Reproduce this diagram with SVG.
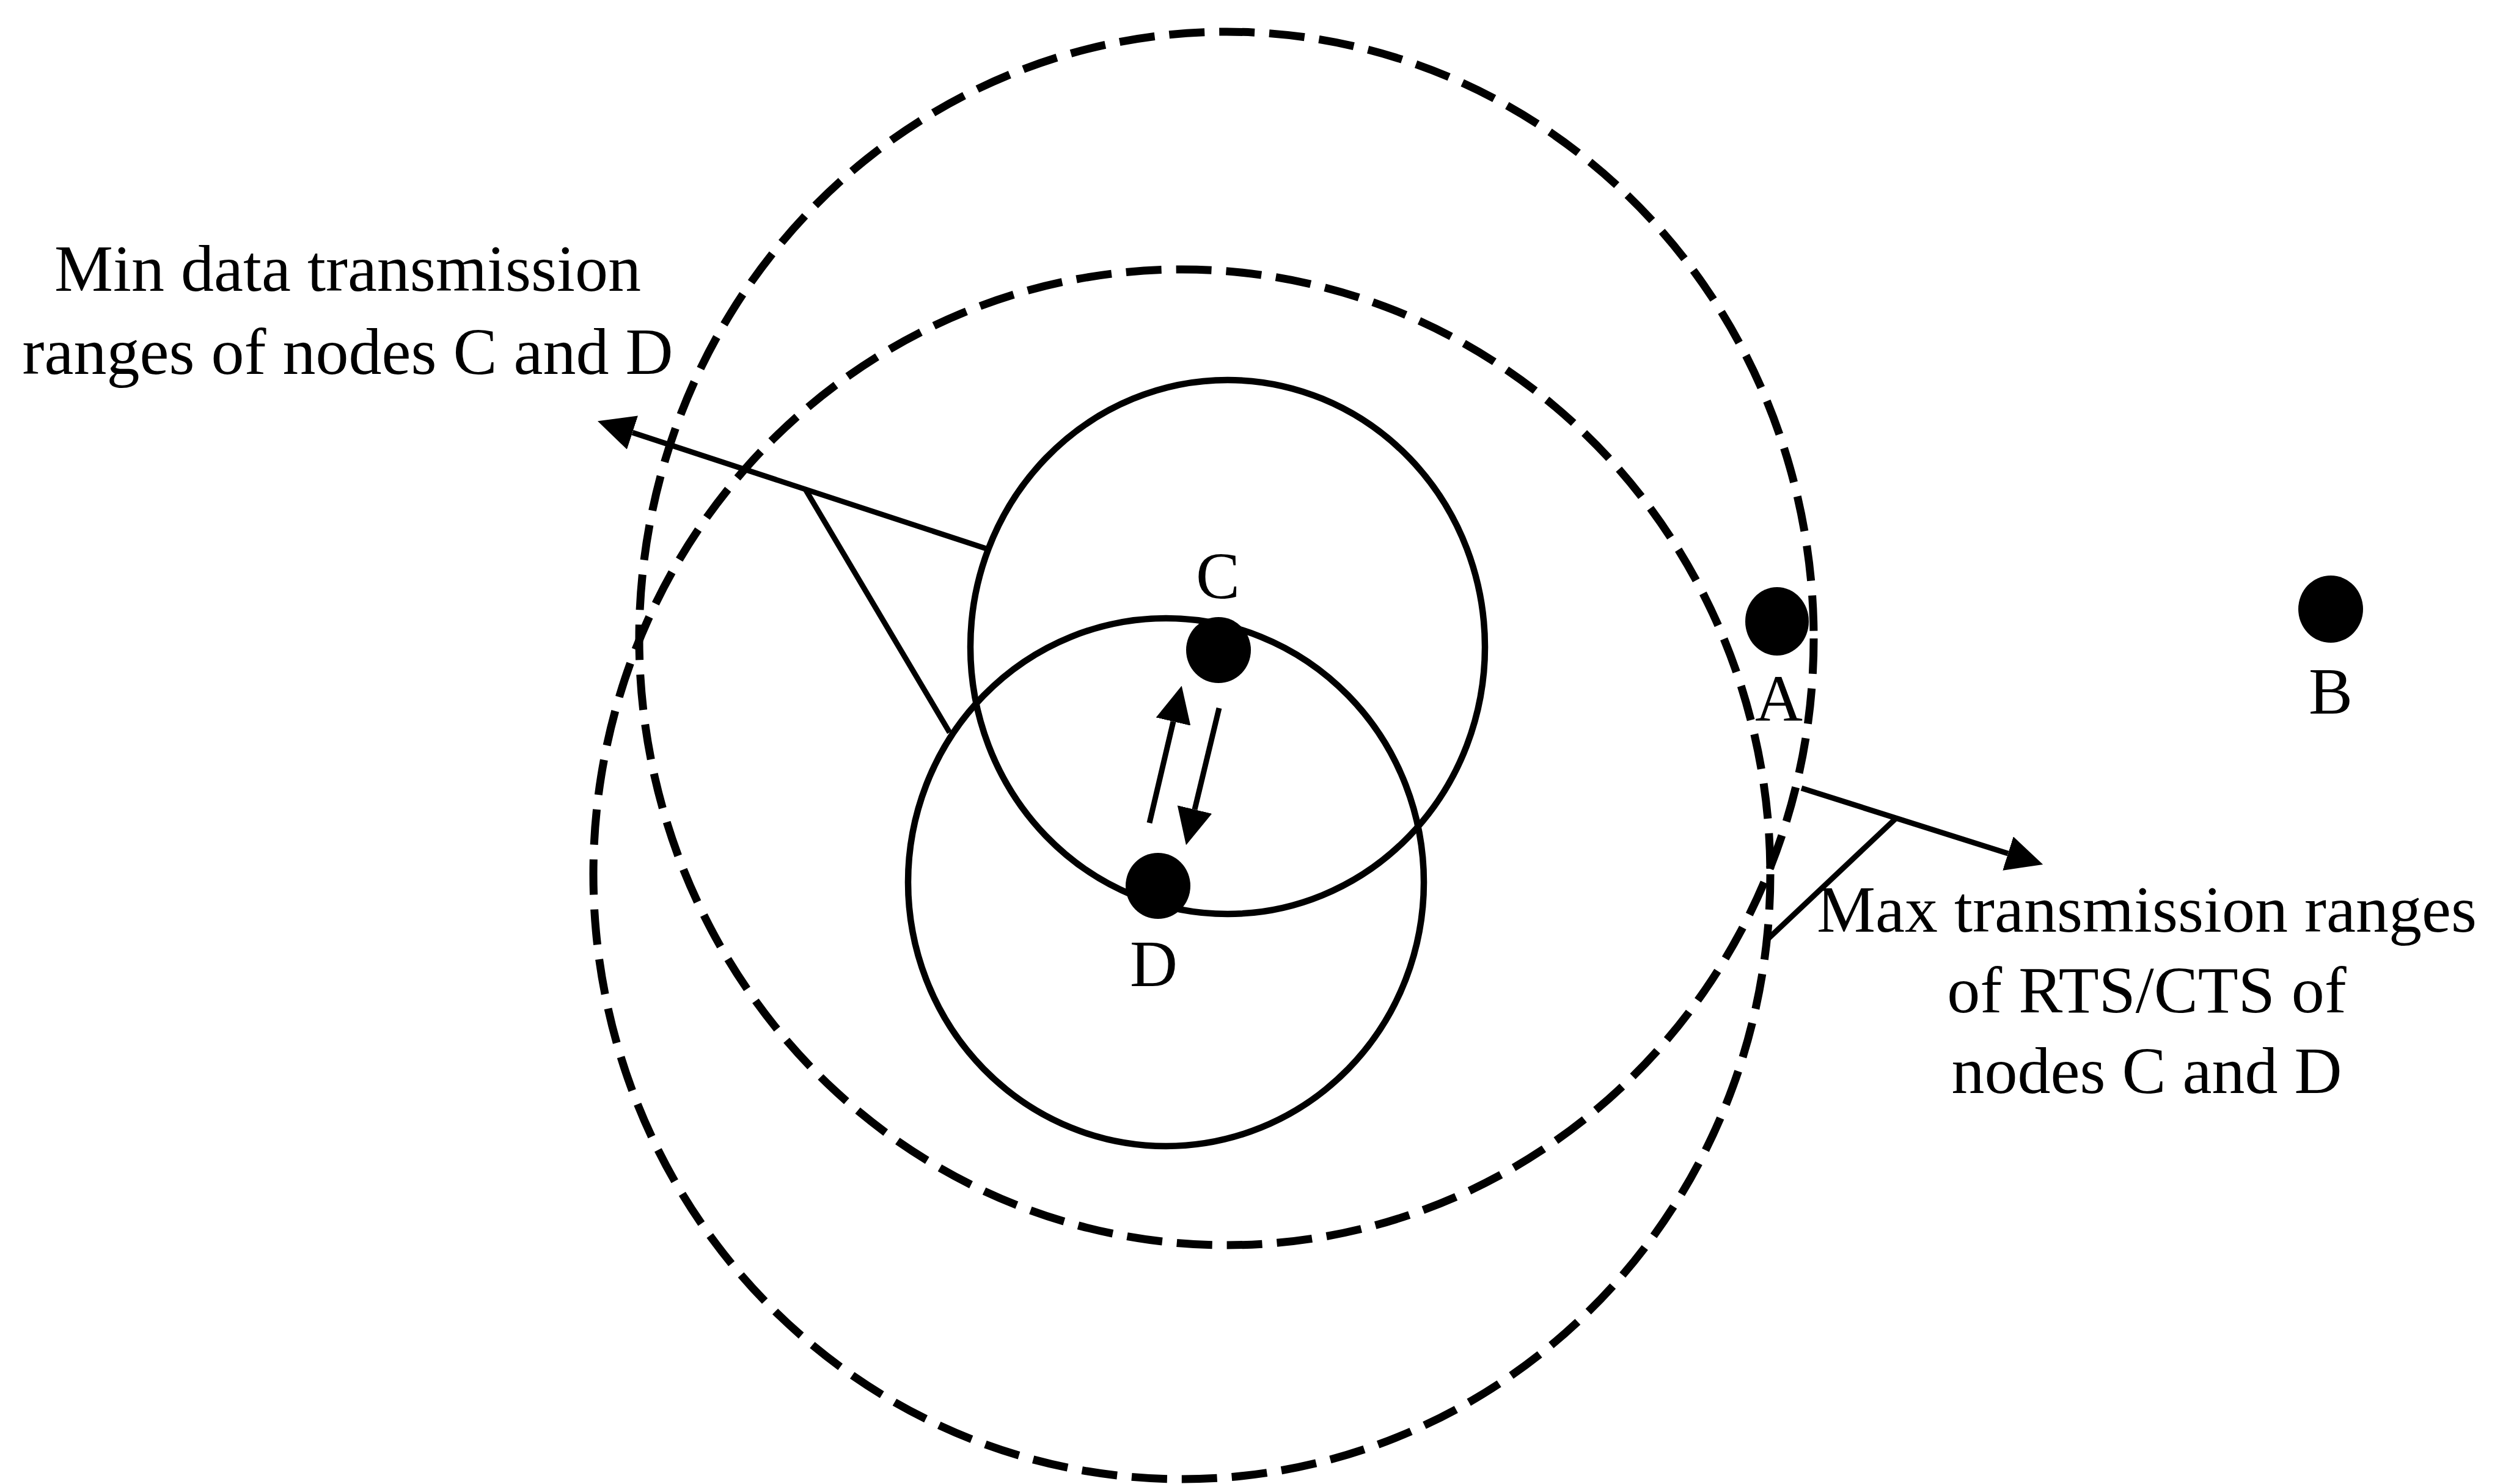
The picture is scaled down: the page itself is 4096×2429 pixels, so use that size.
<svg xmlns="http://www.w3.org/2000/svg" width="4096" height="2429" viewBox="0 0 4096 2429">
<style>
.dash{fill:none;stroke:#000;stroke-width:13;stroke-dasharray:58 24}
.range{fill:none;stroke:#000;stroke-width:10.5}
.dot{fill:#000}
.lbl{font-family:"Liberation Serif","Times New Roman",serif;font-size:108px;fill:#000;text-anchor:middle}
.ptr{fill:none;stroke:#000;stroke-width:9}
</style>
<defs>
<marker id="ah" markerUnits="userSpaceOnUse" markerWidth="60" markerHeight="58" viewBox="0 0 60 58" refX="0" refY="29" orient="auto"><path d="M0,0 L60,29 L0,58 Z" fill="#000"/></marker>
</defs>
<rect width="4096" height="2429" fill="#fff"/>
<g id="max-range-C"><ellipse class="dash" cx="2007" cy="1045" rx="961" ry="993"/></g>
<g id="max-range-D"><ellipse class="dash" cx="1934" cy="1431" rx="963" ry="990"/></g>
<g id="min-range-C"><ellipse class="range" cx="2009" cy="1059" rx="421" ry="437"/></g>
<g id="min-range-D"><ellipse class="range" cx="1908" cy="1444" rx="422" ry="432"/></g>
<g id="node-C"><ellipse class="dot" cx="1994" cy="1064" rx="53" ry="54"/><text class="lbl" x="1993" y="979">C</text></g>
<g id="node-D"><ellipse class="dot" cx="1895" cy="1450" rx="53" ry="54"/><text class="lbl" x="1888" y="1614">D</text></g>
<g id="node-A"><ellipse class="dot" cx="2908" cy="1017" rx="52" ry="56"/><text class="lbl" x="2911" y="1180">A</text></g>
<g id="node-B"><ellipse class="dot" cx="3814" cy="997" rx="53" ry="55"/><text class="lbl" x="3814" y="1168">B</text></g>
<g id="label-min"><text class="lbl" x="569" y="476">Min data transmission</text><text class="lbl" x="569" y="612">ranges of nodes C and D</text></g>
<g id="label-max"><text class="lbl" x="3513" y="1525">Max transmission ranges</text><text class="lbl" x="3513" y="1657">of RTS/CTS of</text><text class="lbl" x="3513" y="1789">nodes C and D</text></g>
<g id="connectors">
<line class="ptr" x1="1881" y1="1347" x2="1920" y2="1181" marker-end="url(#ah)"/>
<line class="ptr" x1="1995" y1="1159" x2="1955" y2="1325" marker-end="url(#ah)"/>
<line class="ptr" x1="1614" y1="898" x2="1035" y2="708" marker-end="url(#ah)"/>
<line class="ptr" x1="1318" y1="801" x2="1554" y2="1199"/>
<line class="ptr" x1="2948" y1="1290" x2="3286" y2="1397" marker-end="url(#ah)"/>
<line class="ptr" x1="3103" y1="1339" x2="2893" y2="1537"/>
</g>
</svg>
